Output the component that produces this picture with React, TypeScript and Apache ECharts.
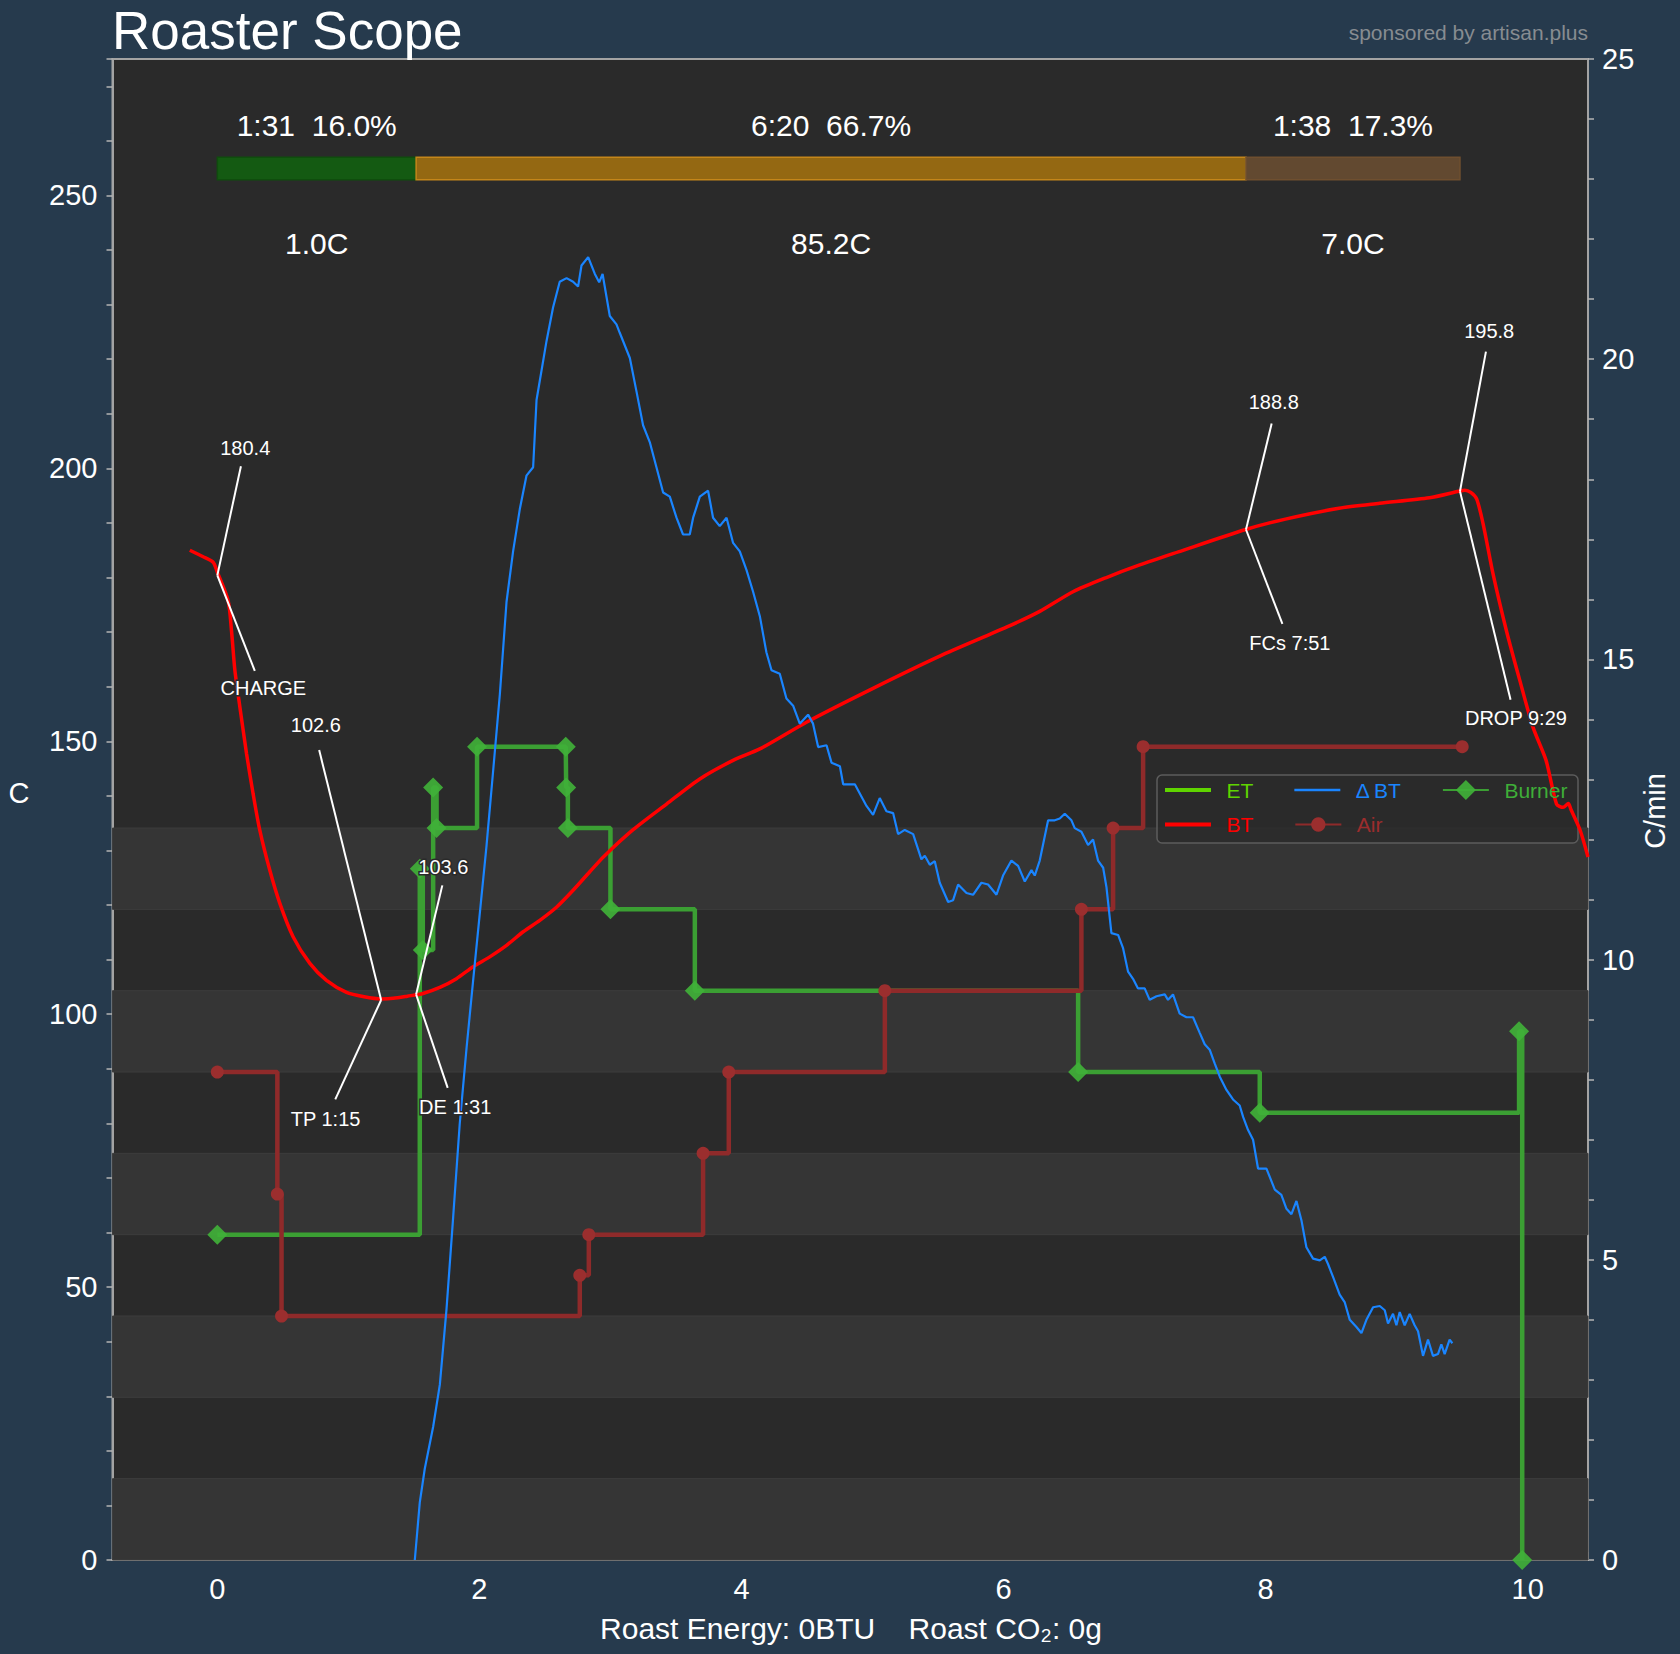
import React, { useEffect, useRef } from "react";
import * as echarts from "echarts";

const FONT = '"Liberation Sans", Arial, Helvetica, sans-serif';

// ---------- data (time in minutes) ----------
const btCurve: [number, number][] = [
  [-0.21, 185.0], [-0.108, 183.8], [-0.032, 182.8], [0.0, 181.0], [0.082, 175.8], [0.108, 170.3],
  [0.134, 163.0], [0.172, 156.3], [0.223, 147.7], [0.273, 140.4], [0.324, 133.7], [0.4, 126.4],
  [0.477, 120.3], [0.578, 114.2], [0.706, 109.3], [0.833, 106.2], [0.986, 104.0], [1.12, 103.2],
  [1.25, 102.8], [1.342, 102.9], [1.45, 103.3], [1.57, 103.8], [1.698, 104.9], [1.825, 106.5],
  [1.952, 108.7], [2.079, 110.5], [2.207, 112.6], [2.334, 115.1], [2.461, 117.2], [2.588, 119.6],
  [2.715, 122.7], [2.842, 126.1], [2.95, 128.9], [3.173, 133.8], [3.428, 138.5], [3.682, 143.1],
  [3.936, 146.5], [4.14, 148.6], [4.496, 153.5], [5.004, 159.7], [5.513, 165.6], [6.022, 170.9],
  [6.276, 173.8], [6.53, 177.4], [6.785, 180.0], [7.039, 182.3], [7.334, 184.7], [7.848, 188.8],
  [8.151, 190.7], [8.56, 192.7], [8.87, 193.6], [9.25, 194.6], [9.474, 195.8], [9.52, 196.0],
  [9.565, 195.6], [9.61, 194.4], [9.66, 189.8], [9.735, 180.7], [9.837, 170.3], [9.939, 161.2],
  [10.04, 152.6], [10.14, 146.5], [10.22, 138.5], [10.27, 137.9], [10.31, 138.6], [10.33, 137.5],
  [10.4, 133.7], [10.46, 128.8],
];

const deltaBtCurve: [number, number][] = [
  [1.507, 0], [1.545, 0.96], [1.583, 1.52], [1.647, 2.22], [1.698, 2.92], [1.749, 4.18], [1.8, 5.72],
  [1.85, 7.27], [1.902, 8.53], [1.952, 9.65], [2.003, 10.77], [2.054, 11.89], [2.105, 13.15],
  [2.156, 14.42], [2.207, 15.96], [2.257, 16.8], [2.308, 17.5], [2.359, 18.06], [2.41, 18.2],
  [2.436, 19.32], [2.512, 20.3], [2.562, 20.86], [2.613, 21.29], [2.665, 21.35], [2.715, 21.29],
  [2.753, 21.21], [2.779, 21.56], [2.83, 21.7], [2.881, 21.42], [2.914, 21.28], [2.94, 21.42],
  [2.995, 20.72], [3.046, 20.58], [3.071, 20.44], [3.148, 20.02], [3.199, 19.46], [3.249, 18.9],
  [3.3, 18.62], [3.351, 18.2], [3.402, 17.78], [3.453, 17.71], [3.504, 17.36], [3.554, 17.08],
  [3.605, 17.08], [3.631, 17.36], [3.682, 17.71], [3.745, 17.81], [3.783, 17.36], [3.834, 17.22],
  [3.886, 17.36], [3.936, 16.94], [3.987, 16.8], [4.038, 16.49], [4.088, 16.13], [4.14, 15.72],
  [4.19, 15.12], [4.229, 14.82], [4.292, 14.76], [4.343, 14.35], [4.394, 14.23], [4.445, 13.93],
  [4.508, 14.08], [4.546, 13.93], [4.585, 13.54], [4.649, 13.57], [4.687, 13.28], [4.751, 13.22],
  [4.776, 12.92], [4.865, 12.92], [4.954, 12.56], [5.004, 12.41], [5.055, 12.69], [5.106, 12.47],
  [5.157, 12.44], [5.195, 12.09], [5.246, 12.16], [5.31, 12.09], [5.373, 11.67], [5.399, 11.73],
  [5.437, 11.58], [5.475, 11.64], [5.513, 11.28], [5.577, 10.96], [5.615, 10.99], [5.653, 11.25],
  [5.717, 11.11], [5.767, 11.08], [5.831, 11.28], [5.882, 11.25], [5.946, 11.08], [5.996, 11.4],
  [6.06, 11.65], [6.111, 11.56], [6.162, 11.3], [6.213, 11.49], [6.238, 11.4], [6.276, 11.65],
  [6.34, 12.32], [6.391, 12.32], [6.429, 12.35], [6.467, 12.43], [6.518, 12.32], [6.543, 12.19],
  [6.594, 12.13], [6.645, 11.91], [6.683, 12.0], [6.721, 11.65], [6.76, 11.53], [6.785, 11.21],
  [6.823, 10.44], [6.874, 10.41], [6.912, 10.19], [6.95, 9.8], [6.988, 9.68], [7.026, 9.52],
  [7.077, 9.52], [7.115, 9.33], [7.167, 9.39], [7.23, 9.42], [7.255, 9.33], [7.293, 9.42],
  [7.344, 9.1], [7.396, 9.04], [7.446, 9.04], [7.497, 8.78], [7.535, 8.59], [7.573, 8.5],
  [7.611, 8.27], [7.65, 8.05], [7.701, 7.83], [7.751, 7.67], [7.802, 7.57], [7.828, 7.38],
  [7.866, 7.16], [7.904, 7.0], [7.942, 6.52], [8.006, 6.52], [8.07, 6.17], [8.12, 6.08],
  [8.159, 5.85], [8.197, 5.76], [8.235, 5.98], [8.273, 5.66], [8.311, 5.21], [8.362, 5.02],
  [8.413, 4.99], [8.451, 5.05], [8.476, 4.93], [8.515, 4.71], [8.565, 4.42], [8.604, 4.29],
  [8.642, 4.0], [8.693, 3.88], [8.731, 3.78], [8.769, 4.0], [8.82, 4.21], [8.871, 4.23],
  [8.909, 4.16], [8.934, 3.94], [8.972, 4.1], [8.998, 3.91], [9.023, 4.13], [9.061, 3.91],
  [9.099, 4.1], [9.137, 3.91], [9.163, 3.81], [9.201, 3.4], [9.239, 3.67], [9.277, 3.4],
  [9.315, 3.43], [9.341, 3.59], [9.366, 3.43], [9.404, 3.67], [9.425, 3.61],
];

const etCurve: [number, number][] = [];

// event values (0-100 %)
const burnerSteps: [number, number][] = [
  [0, 40], [1.545, 85], [1.568, 75], [1.647, 95], [1.673, 90], [1.982, 100], [2.659, 100],
  [2.662, 95], [2.675, 90], [3.0, 80], [3.644, 70], [6.569, 60], [7.955, 55], [9.934, 65], [9.958, 0],
];
const airSteps: [number, number][] = [
  [0, 60], [0.458, 45], [0.49, 30], [2.766, 35], [2.835, 40], [3.707, 50], [3.903, 60],
  [5.094, 70], [6.594, 80], [6.836, 90], [7.065, 100], [9.5, 100],
];
const eventBands: [number, number][] = [[0, 10], [20, 30], [40, 50], [60, 70], [80, 90]];

// phases
const phaseTimes = [0, 1.517, 7.85, 9.483];
const phaseTimeLabels = ["1:31\u00a0\u00a016.0%", "6:20\u00a0\u00a066.7%", "1:38\u00a0\u00a017.3%"];
const phaseRiseLabels = ["1.0C", "85.2C", "7.0C"];

// roast events
const eventNames = ["CHARGE", "TP 1:15", "DE 1:31", "FCs 7:51", "DROP 9:29"];
const eventTimes = [0, 1.25, 1.517, 7.85, 9.483];
const eventTemps = [180.4, 102.6, 103.6, 188.8, 195.8];

// tick labels
const xTickLabels = ["0", "2", "4", "6", "8", "10"];

// ---------- layout / style (not data) ----------
const annotationOffsets = [
  { up: [0.213, 23.3], upLine: [0.18, 20], down: [0.351, -20.7], downLine: [0.286, -17.5] },
  { up: [-0.498, 50.3], upLine: [-0.473, 45.8], down: [-0.424, -21.8], downLine: [-0.35, -18.2] },
  { up: [0.208, 23.4], upLine: [0.2, 20], down: [0.298, -20.6], downLine: [0.241, -17.1] },
  { up: [0.212, 23.3], upLine: [0.196, 19.4], down: [0.335, -20.8], downLine: [0.278, -17.3] },
  { up: [0.223, 29.3], upLine: [0.198, 25.6], down: [0.427, -41.6], downLine: [0.386, -38.2] },
];
const PHASE_BAR = [252.9, 257.0];
const PHASE_ROW_TIME = 262.9;
const PHASE_ROW_RISE = 241.2;
const EVENT_AXIS_MAX = 184.56;
const phaseFill = ["#145a12", "#946812", "#624930"];
const phaseBorder = ["#0f4d0d", "#c4861a", "#6f4f2f"];

const ET_COLOR = "#5fd400";
const BT_COLOR = "#ff0000";
const DBT_COLOR = "#1a85ff";
const BURNER_COLOR = "#3b9f33";
const AIR_COLOR = "#8f2a2a";
const AXIS_COLOR = "#a3a3a3";
const DBT_NAME = "\u0394\u2009BT";

export default function App() {
  const ref = useRef<HTMLDivElement>(null);

  useEffect(() => {
    document.body.style.margin = "0";
    if (!ref.current) return;
    const chart = echarts.init(ref.current, undefined, { renderer: "svg" });

    const xFmt = (v: number) => {
      const r = Math.round(v);
      if (Math.abs(v - r) > 1e-6) return "";
      const s = String(r === 0 ? 0 : r);
      return xTickLabels.indexOf(s) >= 0 ? s : "";
    };

    const annLines: any[] = [];
    const annTexts: any[] = [];
    eventTimes.forEach((t, i) => {
      const p = [t, eventTemps[i]];
      const o = annotationOffsets[i];
      annLines.push({ coords: [[t + o.upLine[0], p[1] + o.upLine[1]], p] });
      annLines.push({ coords: [[t + o.downLine[0], p[1] + o.downLine[1]], p] });
      annTexts.push({ name: eventTemps[i].toFixed(1), value: [t + o.up[0], p[1] + o.up[1]] });
      annTexts.push({ name: eventNames[i], value: [t + o.down[0], p[1] + o.down[1]] });
    });

    const phaseAreas = phaseTimeLabels.map((_, i) => [
      {
        xAxis: phaseTimes[i],
        yAxis: PHASE_BAR[0],
        itemStyle: { color: phaseFill[i], borderColor: phaseBorder[i], borderWidth: 1.5 },
      },
      { xAxis: phaseTimes[i + 1], yAxis: PHASE_BAR[1] },
    ]);
    const phaseText: any[] = [];
    phaseTimeLabels.forEach((lab, i) => {
      const mid = (phaseTimes[i] + phaseTimes[i + 1]) / 2;
      phaseText.push({ name: lab, value: [mid, PHASE_ROW_TIME] });
      phaseText.push({ name: phaseRiseLabels[i], value: [mid, PHASE_ROW_RISE] });
    });

    const legendText = { fontSize: 21, fontFamily: FONT };

    const option: any = {
      animation: false,
      backgroundColor: "#263a4d",
      textStyle: { fontFamily: FONT },
      grid: {
        left: 112.5,
        right: 92,
        top: 59,
        bottom: 94,
        show: true,
        backgroundColor: "#2a2a2a",
        borderColor: AXIS_COLOR,
        borderWidth: 2,
      },
      xAxis: [
        {
          type: "value",
          min: -0.8,
          max: 10.46,
          minInterval: 1,
          maxInterval: 1,
          axisLine: { show: true, onZero: false, lineStyle: { color: AXIS_COLOR, width: 2 } },
          axisTick: { show: true, inside: true, length: 8, lineStyle: { color: "#b5b5b5", width: 1.5 } },
          axisLabel: { color: "#ffffff", fontSize: 29, margin: 14, formatter: xFmt },
          splitLine: { show: false },
        },
      ],
      yAxis: [
        {
          type: "value",
          position: "left",
          min: 0,
          max: 275,
          interval: 10,
          axisLine: { show: true, onZero: false, lineStyle: { color: AXIS_COLOR, width: 2 } },
          axisTick: { show: true, length: 6, lineStyle: { color: "#b5b5b5", width: 1.5 } },
          axisLabel: {
            color: "#ffffff",
            fontSize: 29,
            margin: 15,
            formatter: (v: number) => (Math.abs(v % 50) < 1e-6 ? String(v) : ""),
          },
          splitLine: { show: false },
        },
        {
          type: "value",
          position: "right",
          min: 0,
          max: 25,
          interval: 1,
          axisLine: { show: true, onZero: false, lineStyle: { color: AXIS_COLOR, width: 2 } },
          axisTick: { show: true, length: 6, lineStyle: { color: "#b5b5b5", width: 1.5 } },
          axisLabel: {
            color: "#ffffff",
            fontSize: 29,
            margin: 14,
            formatter: (v: number) => (Math.abs(v % 5) < 1e-6 ? String(v) : ""),
          },
          splitLine: { show: false },
        },
        {
          type: "value",
          min: 0,
          max: EVENT_AXIS_MAX,
          show: false,
          axisLine: { show: false, onZero: false },
          splitLine: { show: false },
        },
      ],
      legend: [
        {
          data: [
            { name: "ET", icon: "path://M0 0H46V4H0Z", textStyle: { color: ET_COLOR } },
            { name: DBT_NAME, icon: "path://M0 0H46V2.4H0Z", textStyle: { color: DBT_COLOR } },
            { name: "Burner", textStyle: { color: "#3fae38" } },
          ],
          left: 1165,
          top: 779.5,
          orient: "horizontal",
          itemWidth: 46,
          itemHeight: 25,
          itemGap: 41,
          padding: 0,
          selectedMode: false,
          formatter: (n: string) => "\u2002" + n,
          textStyle: legendText,
        },
        {
          data: [
            { name: "BT", icon: "path://M0 0H46V4H0Z", textStyle: { color: BT_COLOR } },
            { name: "Air", textStyle: { color: "#9b2d2d" } },
          ],
          left: 1165,
          top: 814,
          orient: "horizontal",
          itemWidth: 46,
          itemHeight: 18,
          itemGap: 41,
          padding: 0,
          selectedMode: false,
          formatter: (n: string) => "\u2002" + n,
          textStyle: legendText,
        },
      ],
      graphic: [
        {
          type: "text",
          x: 112,
          y: 30,
          style: { text: "Roaster Scope", fill: "#ffffff", fontSize: 53, fontFamily: FONT, align: "left", verticalAlign: "middle" },
        },
        {
          type: "text",
          x: 1588,
          y: 32,
          style: { text: "sponsored by artisan.plus", fill: "#878c91", fontSize: 21, fontFamily: FONT, align: "right", verticalAlign: "middle" },
        },
        {
          type: "text",
          x: 19,
          y: 793,
          style: { text: "C", fill: "#ffffff", fontSize: 29, fontFamily: FONT, align: "center", verticalAlign: "middle" },
        },
        {
          type: "text",
          x: 1655,
          y: 811,
          rotation: Math.PI / 2,
          style: { text: "C/min", fill: "#ffffff", fontSize: 29, fontFamily: FONT, align: "center", verticalAlign: "middle" },
        },
        {
          type: "text",
          x: 851,
          y: 1628,
          style: {
            text: "Roast Energy: 0BTU\u00a0\u00a0\u00a0\u00a0Roast CO\u2082: 0g",
            fill: "#ffffff",
            fontSize: 30,
            fontFamily: FONT,
            align: "center",
            verticalAlign: "middle",
          },
        },
        {
          type: "rect",
          z: 3,
          shape: { x: 1157, y: 775, width: 421, height: 68, r: 5 },
          style: { fill: "rgba(42,42,42,0.78)", stroke: "#5c5c5c", lineWidth: 1.5 },
        },
      ],
      series: [
        {
          name: "_bands",
          type: "line",
          yAxisIndex: 2,
          data: [],
          silent: true,
          markArea: {
            silent: true,
            itemStyle: { color: "#353535", borderColor: "#3d3d3d", borderWidth: 1 },
            data: eventBands.map(([a, b]) => [{ yAxis: a }, { yAxis: b }]),
          },
        },
        {
          name: "_phases",
          type: "line",
          yAxisIndex: 0,
          data: [],
          silent: true,
          markArea: { silent: true, data: phaseAreas },
        },
        {
          name: "Burner",
          type: "line",
          yAxisIndex: 2,
          step: "end",
          data: burnerSteps,
          symbol: "diamond",
          symbolSize: 20,
          showAllSymbol: true,
          color: BURNER_COLOR,
          lineStyle: { color: BURNER_COLOR, width: 4.5 },
          itemStyle: { color: "rgba(64,176,56,0.92)" },
          z: 2,
        },
        {
          name: "Air",
          type: "line",
          yAxisIndex: 2,
          step: "end",
          data: airSteps,
          symbol: "circle",
          symbolSize: 13,
          showAllSymbol: true,
          color: AIR_COLOR,
          lineStyle: { color: AIR_COLOR, width: 4.5 },
          itemStyle: { color: "#9b2e2e" },
          z: 2,
        },
        {
          name: "ET",
          type: "line",
          yAxisIndex: 0,
          data: etCurve,
          symbol: "none",
          color: ET_COLOR,
          lineStyle: { color: ET_COLOR, width: 4 },
        },
        {
          name: "BT",
          type: "line",
          yAxisIndex: 0,
          data: btCurve,
          symbol: "none",
          smooth: 0.25,
          color: BT_COLOR,
          lineStyle: { color: BT_COLOR, width: 3.5 },
          z: 3,
        },
        {
          name: DBT_NAME,
          type: "line",
          yAxisIndex: 1,
          data: deltaBtCurve,
          symbol: "none",
          color: DBT_COLOR,
          lineStyle: { color: DBT_COLOR, width: 2.2 },
          z: 3,
        },
        {
          name: "_annLines",
          type: "lines",
          coordinateSystem: "cartesian2d",
          xAxisIndex: 0,
          yAxisIndex: 0,
          silent: true,
          symbol: "none",
          lineStyle: { color: "#ffffff", width: 2, opacity: 1, curveness: 0 },
          data: annLines,
          z: 5,
        },
        {
          name: "_annTexts",
          type: "scatter",
          xAxisIndex: 0,
          yAxisIndex: 0,
          silent: true,
          symbolSize: 2,
          itemStyle: { color: "transparent", opacity: 1 },
          label: {
            show: true,
            position: "inside",
            formatter: "{b}",
            color: "#ffffff",
            opacity: 1,
            fontSize: 20,
            fontFamily: FONT,
            textBorderColor: "#2a2a2a",
            textBorderWidth: 3,
          },
          data: annTexts,
          z: 6,
        },
        {
          name: "_phaseTexts",
          type: "scatter",
          xAxisIndex: 0,
          yAxisIndex: 0,
          silent: true,
          symbolSize: 2,
          itemStyle: { color: "transparent", opacity: 1 },
          label: {
            show: true,
            position: "inside",
            formatter: "{b}",
            color: "#ffffff",
            opacity: 1,
            fontSize: 30,
            fontFamily: FONT,
          },
          data: phaseText,
          z: 6,
        },
      ],
    };

    chart.setOption(option);
    return () => {
      chart.dispose();
    };
  }, []);

  return (
    <div
      ref={ref}
      style={{ position: "absolute", left: 0, top: 0, width: 1680, height: 1654 }}
    />
  );
}
